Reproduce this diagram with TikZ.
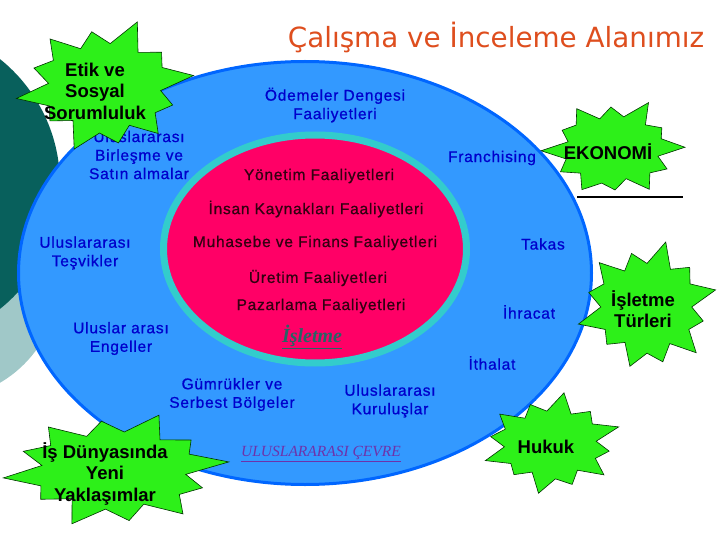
\documentclass[tikz,border=0pt]{standalone}
\usepackage{fontspec}
\setmainfont{Liberation Sans}
\newfontfamily\spaced{Liberation Sans}[LetterSpace=5, FakeBold=0.8]
\newfontfamily\serifit{Liberation Serif}
\newfontfamily\titlefont{DejaVu Sans}
\definecolor{outerblue}{RGB}{51,153,255}
\definecolor{outeredge}{RGB}{0,102,255}
\definecolor{innerpink}{RGB}{255,0,102}
\definecolor{innerring}{RGB}{51,204,204}
\definecolor{darkteal}{RGB}{8,96,92}
\definecolor{lightteal}{RGB}{160,200,200}
\definecolor{bluetext}{RGB}{0,0,204}
\definecolor{maroontext}{RGB}{51,0,17}
\definecolor{burstgreen}{RGB}{45,240,25}
\definecolor{titlecol}{RGB}{222,78,30}
\definecolor{cevrecol}{RGB}{110,50,170}
\definecolor{isletmecol}{RGB}{40,100,100}
\tikzset{
  bt/.style={text=bluetext, font=\spaced\fontsize{15.5}{18.5}\selectfont, align=center, inner sep=0pt},
  pt/.style={text=maroontext, font=\spaced\fontsize{15.5}{18}\selectfont, inner sep=0pt},
  st/.style={text=black, font=\bfseries\fontsize{18.5}{21.5}\selectfont, align=center, inner sep=0pt},
  burststyle/.style={draw=black!80!green, fill=burstgreen, line width=0.6pt, line join=miter},
}
% #1 centre coordinate, #2 x half size, #3 y half size, #4 phase angle, #5 twelve outer/inner factor pairs
\newcommand\burstshape[5]{%
  \draw[burststyle, shift={(#1)}] ({#2*0.66*cos(#4-15)},{#3*0.66*sin(#4-15)})
    \foreach \o/\i [count=\k, evaluate=\k as \ang using #4+(\k-1)*30] in {#5}
      { -- ({#2*\o*cos(\ang)},{#3*\o*sin(\ang)}) -- ({#2*\i*cos(\ang+15)},{#3*\i*sin(\ang+15)}) } -- cycle;
}
\begin{document}
\begin{tikzpicture}[x=1pt,y=-1pt]
\useasboundingbox (0,0) rectangle (720,540);
% background decoration
\fill[lightteal] (-60,280) circle [radius=119];
\fill[darkteal] (-100,184) circle [radius=160];
% ellipses
\draw[fill=outerblue, draw=outeredge, line width=3pt] (305,273) ellipse [x radius=286.5, y radius=211.5];
\draw[fill=innerpink, draw=innerring, line width=7pt] (315,249) ellipse [x radius=151.5, y radius=114];
% title
\node[text=titlecol, font=\titlefont\fontsize{27.8}{30}\selectfont, inner sep=0pt] (title) at (496,37) {Çalışma ve İnceleme Alanımız};
% blue texts
\node[bt] (odemeler) at (335,105) {Ödemeler Dengesi\\Faaliyetleri};
\node[bt] (birlesme) at (139,155) {Uluslararası\\Birleşme ve\\Satın almalar};
\node[bt] (franch) at (492,158) {Franchising};
\node[bt] (tesvik) at (85,253) {Uluslararası\\Teşvikler};
\node[bt] (takas) at (543,244) {Takas};
\node[bt] (engel) at (121,338.5) {Uluslar arası\\Engeller};
\node[bt] (ihracat) at (529,312) {İhracat};
\node[bt] (ithalat) at (492,363) {İthalat};
\node[bt] (gumruk) at (232,394.5) {Gümrükler ve\\Serbest Bölgeler};
\node[bt] (kurulus) at (390,401) {Uluslararası\\Kuruluşlar};
\node[text=cevrecol, font=\serifit\itshape\fontsize{15.5}{18}\selectfont, inner sep=0pt] (cevre) at (321,454) {\underline{ULUSLARARASI ÇEVRE}};
% inner texts
\node[pt] (yonetim) at (319,176) {Yönetim Faaliyetleri};
\node[pt] (insan) at (316,209) {İnsan Kaynakları Faaliyetleri};
\node[pt] (muhasebe) at (315,243) {Muhasebe ve Finans Faaliyetleri};
\node[pt] (uretim) at (318,278) {Üretim Faaliyetleri};
\node[pt] (pazar) at (321,306) {Pazarlama Faaliyetleri};
\node[text=isletmecol, font=\serifit\bfseries\itshape\fontsize{20}{22}\selectfont, inner sep=0pt] (isletme) at (312,337) {\underline{İşletme}};
% bursts
\coordinate (b1) at (105,87);
\burstshape{b1}{90}{66}{-70}{1.05/0.64, 0.82/0.7, 1/0.62, 0.8/0.68, 0.92/0.64, 0.86/0.7, 1/0.62, 0.8/0.68, 1/0.63, 0.84/0.7, 0.95/0.64, 0.85/0.66}
\node[st] (etik) at (95,91) {Etik ve\\Sosyal\\Sorumluluk};
\coordinate (b2) at (613,149);
\burstshape{b2}{72}{50}{-62}{1.05/0.66, 0.8/0.7, 1/0.64, 0.85/0.7, 0.95/0.62, 0.82/0.7, 0.92/0.66, 0.86/0.68, 1/0.64, 0.8/0.7, 0.95/0.63, 0.84/0.66}
\node[st] (ekonomi) at (608,152) {EKONOMİ};
\coordinate (b3) at (647,307);
\burstshape{b3}{71}{66}{-75}{1.02/0.66, 0.85/0.7, 1/0.63, 0.82/0.68, 0.98/0.64, 0.86/0.7, 0.93/0.62, 0.8/0.68, 1/0.65, 0.85/0.7, 0.95/0.63, 0.84/0.66}
\node[st] (turleri) at (643,309) {İşletme\\Türleri};
\coordinate (b4) at (115,470);
\burstshape{b4}{115}{58}{-68}{1.02/0.65, 0.84/0.7, 1/0.62, 0.82/0.7, 0.96/0.64, 0.88/0.68, 1/0.62, 0.82/0.7, 0.98/0.64, 0.86/0.7, 0.94/0.63, 0.85/0.66}
\node[st] (dunya) at (105,473.5) {İş Dünyasında\\Yeni\\Yaklaşımlar};
\coordinate (b5) at (551,444);
\burstshape{b5}{72}{50}{-80}{1.04/0.66, 0.85/0.7, 1/0.63, 0.82/0.68, 0.96/0.64, 0.86/0.7, 1/0.62, 0.8/0.68, 0.97/0.65, 0.85/0.7, 0.93/0.63, 0.84/0.66}
\node[st] (hukuk) at (546,447) {Hukuk};
% line under EKONOMİ
\coordinate (l1) at (577,197);
\coordinate (l2) at (683,197);
\draw[line width=1.5pt] (l1) -- (l2);
\end{tikzpicture}
\end{document}
